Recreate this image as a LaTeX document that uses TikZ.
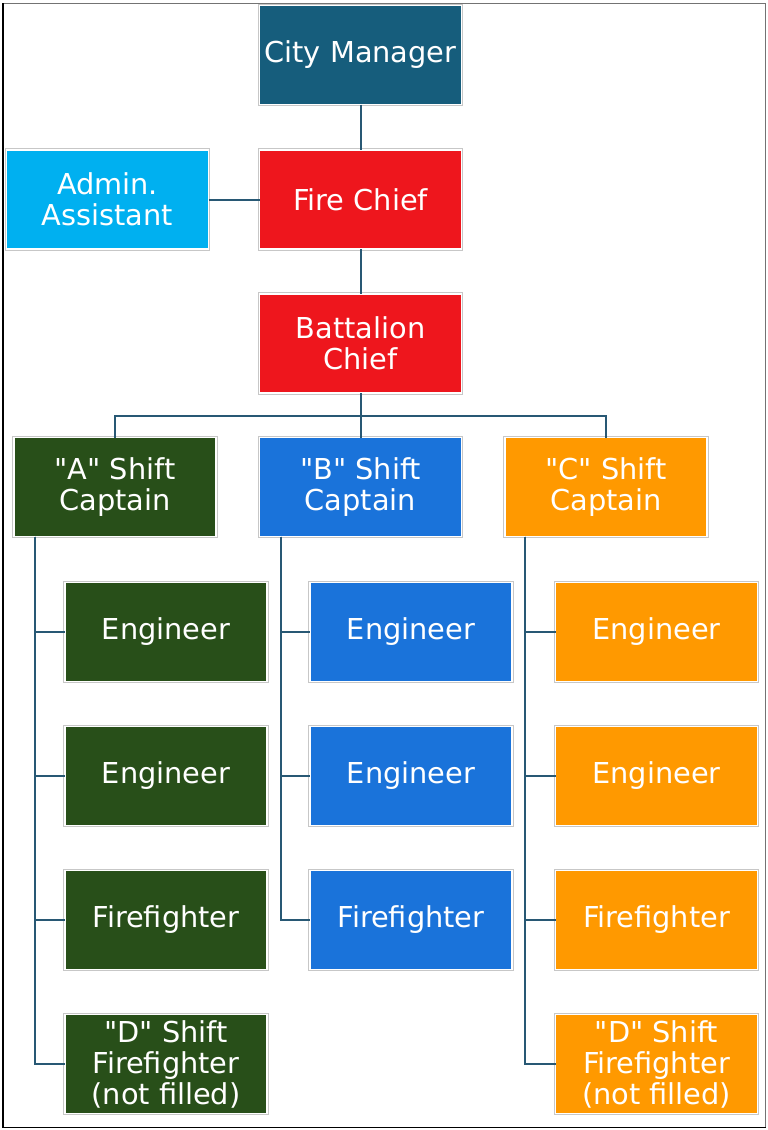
\documentclass[tikz,border=0pt]{standalone}
\usepackage{fontspec}
\setmainfont{DejaVu Sans}[Ligatures=TeXOff]
\usepackage{tikz}

\definecolor{citycol}{RGB}{22,93,124}
\definecolor{admincol}{RGB}{0,176,240}
\definecolor{chiefcol}{RGB}{238,22,29}
\definecolor{acol}{RGB}{40,79,25}
\definecolor{bcol}{RGB}{26,115,218}
\definecolor{ccol}{RGB}{255,153,0}
\definecolor{linkcol}{RGB}{40,88,116}

\tikzset{
    unitbox/.style={rectangle, fill=#1, draw=white, line width=0.6pt,
        preaction={draw=black!22, line width=1.6pt},
        minimum width=101pt, minimum height=49.5pt, inner sep=0pt,
        outer sep=0pt, align=center, text=white,
        font=\fontsize{14.4pt}{15.5pt}\selectfont},
    link/.style={draw=linkcol, line width=1pt}
}

\begin{document}
\begin{tikzpicture}[x=0.5pt,y=-0.5pt]
        \useasboundingbox (0,0) rectangle (767,1130);

        % Outer frame
        \draw [black!55, line width=0.5pt] (3,3) rectangle (765.5,1127.5);
        \draw [black, line width=0.9pt] (3,3) -- (3,1127.5) -- (765.5,1127.5);

        % Top of the chart
        \node [unitbox=citycol] (city) at (360.5,55) {City Manager};
        \node [unitbox=chiefcol] (chief) at (360.5,199.5) {Fire Chief};
        \node [unitbox=admincol] (admin) at (107.5,199.5) {Admin.\\Assistant};
        \node [unitbox=chiefcol] (batt) at (360.5,343.5) {Battalion\\ Chief};

        % Shift captains
        \node [unitbox=acol] (capA) at (115,487) {"A" Shift\\Captain};
        \node [unitbox=bcol] (capB) at (360.5,487) {"B" Shift\\Captain};
        \node [unitbox=ccol] (capC) at (606,487) {"C" Shift\\Captain};

        % "A" shift crew
        \node [unitbox=acol] (a1) at (166,632) {Engineer};
        \node [unitbox=acol] (a2) at (166,776) {Engineer};
        \node [unitbox=acol] (a3) at (166,920) {Firefighter};
        \node [unitbox=acol] (a4) at (166,1064) {"D" Shift\\Firefighter\\(not filled)};

        % "B" shift crew
        \node [unitbox=bcol] (b1) at (411,632) {Engineer};
        \node [unitbox=bcol] (b2) at (411,776) {Engineer};
        \node [unitbox=bcol] (b3) at (411,920) {Firefighter};

        % "C" shift crew
        \node [unitbox=ccol] (c1) at (656.5,632) {Engineer};
        \node [unitbox=ccol] (c2) at (656.5,776) {Engineer};
        \node [unitbox=ccol] (c3) at (656.5,920) {Firefighter};
        \node [unitbox=ccol] (c4) at (656.5,1064) {"D" Shift\\Firefighter\\(not filled)};

        % Links
        \draw [link] (city.south) -- (chief.north);
        \draw [link] (admin.east) -- (chief.west);
        \draw [link] (chief.south) -- (batt.north);
        \coordinate (bar) at (360.5,416);
        \draw [link] (batt.south) -- (bar);
        \draw [link] (capA.north) |- (bar) -| (capC.north);
        \draw [link] (bar) -- (capB.north);

        % Crew links
        \foreach \c in {a1,a2,a3,a4}
            \draw [link] ([xshift=10.5pt]capA.south west) |- (\c.west);
        \foreach \c in {b1,b2,b3}
            \draw [link] ([xshift=10.5pt]capB.south west) |- (\c.west);
        \foreach \c in {c1,c2,c3,c4}
            \draw [link] ([xshift=10pt]capC.south west) |- (\c.west);

    \end{tikzpicture}
\end{document}
